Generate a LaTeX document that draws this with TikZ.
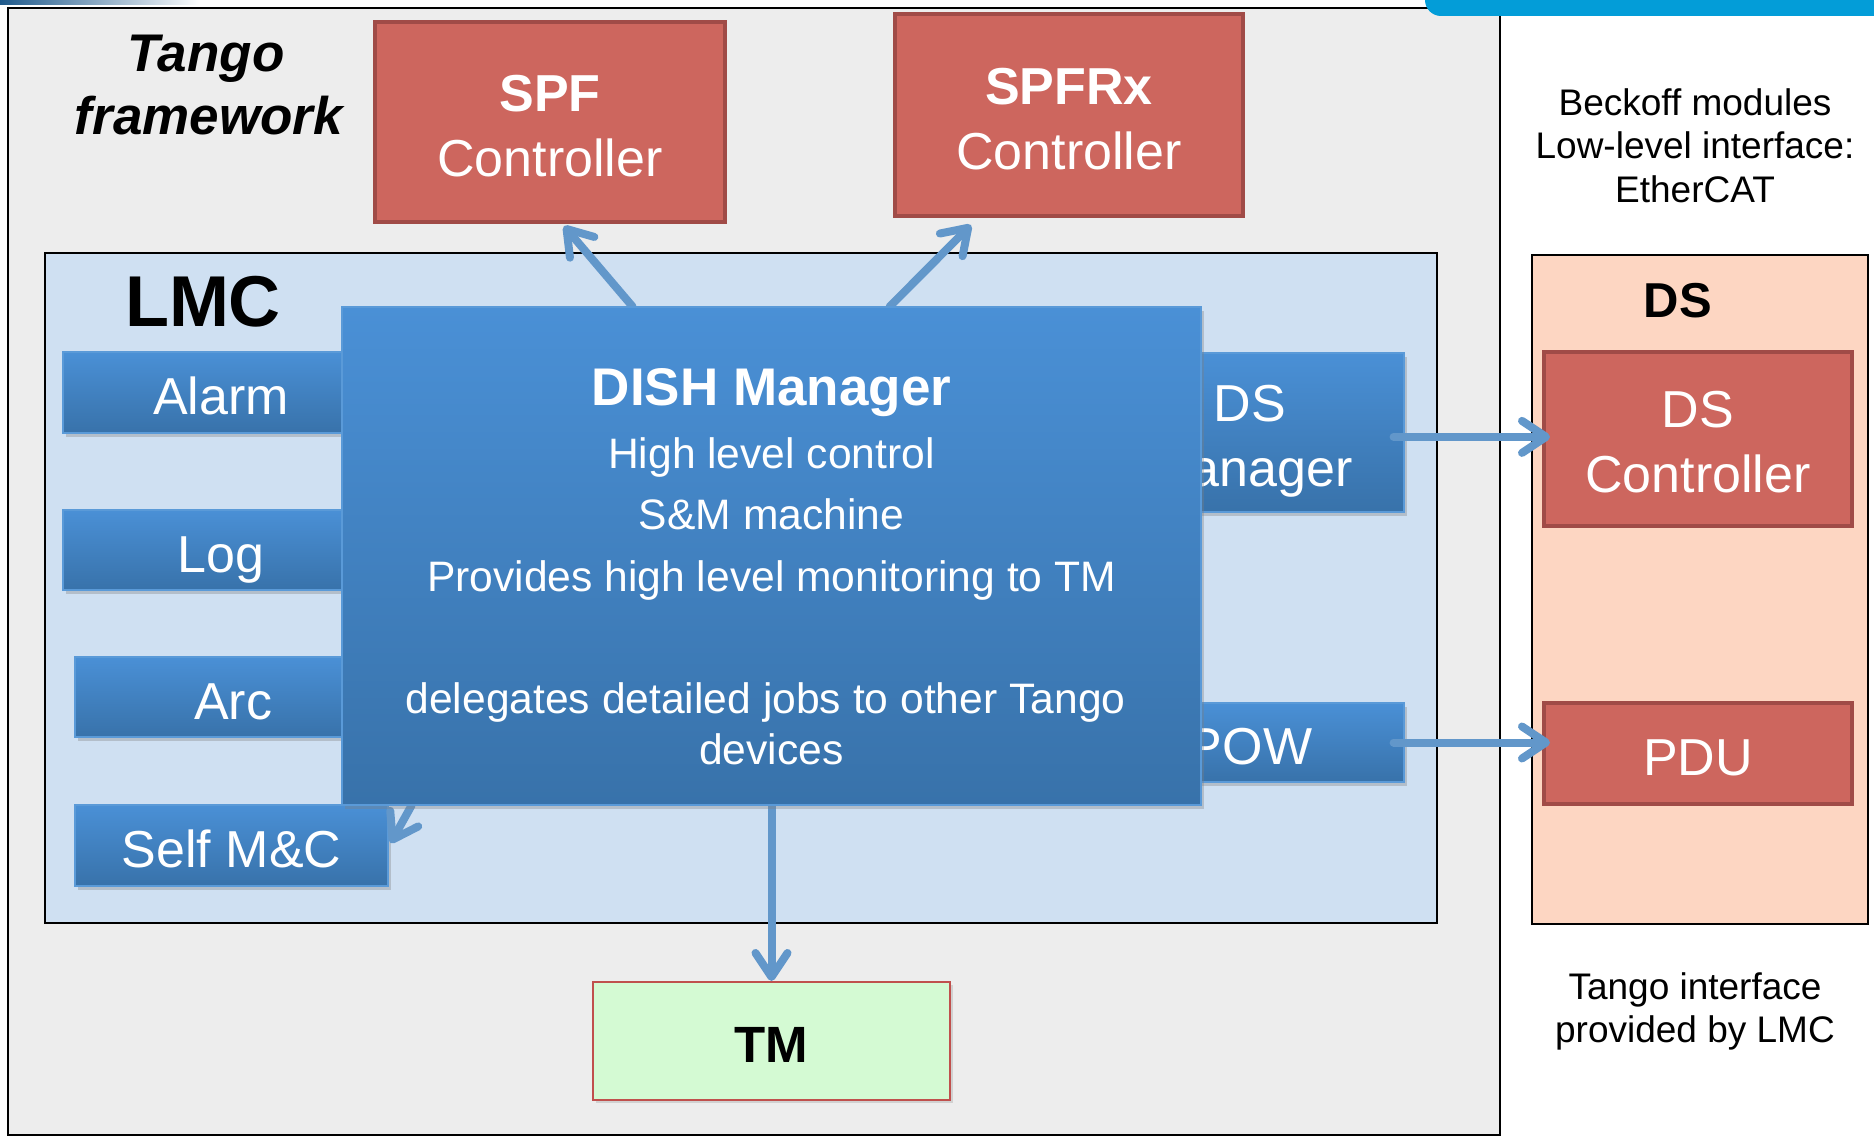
\documentclass[tikz,border=0pt]{standalone}
\usepackage{fontspec}
\setmainfont{Liberation Sans}
\usetikzlibrary{arrows.meta,shadows}

\definecolor{framegray}{HTML}{EDEDED}
\definecolor{lmcblue}{HTML}{CFE0F2}
\definecolor{peach}{HTML}{FDD6C2}
\definecolor{redfill}{HTML}{CD665E}
\definecolor{redline}{HTML}{A04B47}
\definecolor{bluetop}{HTML}{4A90D6}
\definecolor{bluebot}{HTML}{3872AA}
\definecolor{blueedge}{HTML}{5A9AD8}
\definecolor{arrowblue}{HTML}{6297CA}
\definecolor{tmgreen}{HTML}{D4FAD3}
\definecolor{tmline}{HTML}{C0504D}
\definecolor{barblue}{HTML}{039DD8}
\definecolor{stripeblue}{HTML}{1F5A8C}

\tikzset{
  container/.style={draw=black, line width=1pt, inner sep=0pt},
  bluebox/.style={draw=blueedge, line width=0.6pt, top color=bluetop, bottom color=bluebot,
    text=white, font=\fontsize{26}{32.5}\selectfont, inner sep=0pt, align=center,
    drop shadow={opacity=0.35, shadow xshift=1.5pt, shadow yshift=-2pt}},
  redbox/.style={draw=redline, line width=2pt, fill=redfill, text=white,
    font=\fontsize{26}{32.5}\selectfont, inner sep=0pt, align=center},
  oneline/.style={text height=22pt, text depth=0pt},
  conn/.style={draw=arrowblue, line width=4pt, line cap=round,
    -{Straight Barb[length=12pt,width=16pt,round]}},
  dmtitle/.style={anchor=base, text=white, font=\bfseries\fontsize{26.5}{30}\selectfont},
  dmline/.style={anchor=base, text=white, font=\fontsize{21.3}{26}\selectfont},
  note/.style={anchor=base, text=black, font=\fontsize{18.5}{22}\selectfont},
}

\begin{document}
\begin{tikzpicture}[x=0.5pt,y=-0.5pt]
  \useasboundingbox[fill=white] (0,0) rectangle (1874,1139);

  % outer Tango framework area
  \node[container, fill=framegray, minimum width=746pt, minimum height=563.5pt] (frame) at (754,571.5) {};
  % header decorations
  \shade[left color=stripeblue, right color=white] (0,0) rectangle (200,5);
  \fill[barblue, rounded corners=8pt] (1425,-30) rectangle (1900,16);

  \node[anchor=base, font=\bfseries\itshape\fontsize{26.5}{30}\selectfont] (tango) at (206,72) {Tango};
  \node[anchor=base, font=\bfseries\itshape\fontsize{26.5}{30}\selectfont] (framework) at (209,135) {framework};

  % LMC and DS containers
  \node[container, fill=lmcblue, minimum width=696pt, minimum height=335pt] (lmc) at (741,588) {};
  \node[anchor=base, font=\bfseries\fontsize{36}{40}\selectfont] (lmclabel) at (203,327) {LMC};
  \node[container, line width=0.8pt, fill=peach, minimum width=168pt, minimum height=334.5pt] (dsbox) at (1700,589.5) {};
  \node[anchor=base, font=\bfseries\fontsize{24.5}{28}\selectfont] (dslabel) at (1678,318) {DS};

  % LMC sub-devices
  \node[bluebox, oneline, minimum width=158pt, minimum height=40.5pt] (alarm) at (221,392.5) {Alarm};
  \node[bluebox, oneline, minimum width=158pt, minimum height=40pt] (log) at (221,550) {Log};
  \node[bluebox, oneline, minimum width=158pt, minimum height=40pt] (arc) at (233,697) {Arc};
  \node[bluebox, oneline, minimum width=156.5pt, minimum height=40.5pt] (smc) at (231.5,845.5) {Self M\&C};
  \node[bluebox, minimum width=154pt, minimum height=79.5pt] (dsm) at (1250,432.5) {\rule{0pt}{27pt}DS\\Manager};
  \node[bluebox, oneline, minimum width=154pt, minimum height=39.5pt] (pow) at (1250,742.5) {POW};

  % DS side devices
  \node[redbox, minimum width=154pt, minimum height=87pt] (dsc) at (1698,439) {\rule{0pt}{21.6pt}DS\\Controller};
  \node[redbox, oneline, minimum width=154pt, minimum height=50.5pt] (pdu) at (1698,753.5) {PDU};

  % controllers above
  \node[redbox, minimum width=175pt, minimum height=100pt] (spf) at (550,122) {\rule{0pt}{22.6pt}\textbf{SPF}\\Controller};
  \node[redbox, minimum width=174pt, minimum height=101pt] (spfrx) at (1069,115) {\rule{0pt}{22.2pt}\textbf{SPFRx}\\Controller};

  % TM
  \node[draw=tmline, line width=1pt, fill=tmgreen, minimum width=178.5pt, minimum height=59pt,
        text height=21.5pt, text depth=0pt,
        font=\bfseries\fontsize{25.5}{30}\selectfont,
        drop shadow={opacity=0.25, shadow xshift=1.5pt, shadow yshift=-1.5pt}] (tm) at (771.5,1041) {TM};

  % connectors (the DISH Manager box is drawn on top of their tails)
  \node[minimum width=429.5pt, minimum height=249pt, inner sep=0pt] (dmarea) at (771.5,556) {};
  \draw[conn] ([xshift=145.5pt]dmarea.north west) -- ([xshift=95.5pt,yshift=-1pt]spf.south west);
  \draw[conn] ([xshift=274pt]dmarea.north west) -- ([xshift=39pt,yshift=-3.5pt]spfrx.south west);
  \draw[conn] ([xshift=35pt]dmarea.south west) -- ([xshift=1pt,yshift=1.2pt]smc.east);
  \draw[conn] ([xshift=-5.5pt,yshift=-2.2pt]dsm.east) -- ([xshift=4pt,yshift=-2.2pt]dsm.east -| dsc.west);
  \draw[conn] ([xshift=-5.5pt]pow.east) -- ([xshift=4pt]pow.east -| pdu.west);
  \draw[conn] (dmarea.south) -- (tm.north);

  % DISH Manager
  \node[bluebox, minimum width=429.5pt, minimum height=249pt] (dm) at (771.5,556) {};
  \node[dmtitle] (dmt) at (771.5,405) {DISH Manager};
  \node[dmline] (dml1) at (771.5,468) {High level control};
  \node[dmline] (dml2) at (771.5,529) {S\&M machine};
  \node[dmline] (dml3) at (771.5,591) {Provides high level monitoring to TM};
  \node[dmline] (dml4) at (765.5,713) {delegates detailed jobs to other Tango};
  \node[dmline] (dml5) at (771.5,764) {devices};

  % side notes
  \node[note] (n1) at (1695,115.5) {Beckoff modules};
  \node[note] (n2) at (1695,158.5) {Low-level interface:};
  \node[note] (n3) at (1695,203) {EtherCAT};
  \node[note] (n4) at (1695,999) {Tango interface};
  \node[note] (n5) at (1695,1042) {provided by LMC};
\end{tikzpicture}
\end{document}
